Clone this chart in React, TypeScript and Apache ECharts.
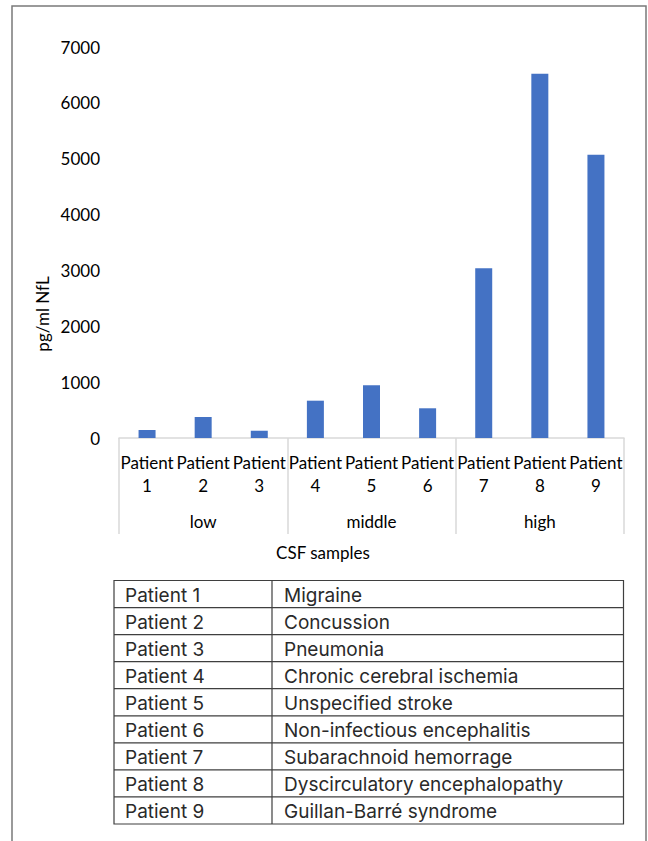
import React, { useEffect, useRef } from "react";
import * as echarts from "echarts";

const patients = [
  "Patient 1", "Patient 2", "Patient 3", "Patient 4", "Patient 5",
  "Patient 6", "Patient 7", "Patient 8", "Patient 9",
];
const nflValues = [143, 376, 130, 668, 943, 532, 3037, 6522, 5072];
const groups = ["low", "middle", "high"];
const groupSize = 3;
const yMin = 0;
const yMax = 7000;
const yInterval = 1000;
const yAxisTitle = "pg/ml NfL";
const xAxisTitle = "CSF samples";
const diagnoses = [
  "Migraine",
  "Concussion",
  "Pneumonia",
  "Chronic cerebral ischemia",
  "Unspecified stroke",
  "Non-infectious encephalitis",
  "Subarachnoid hemorrage",
  "Dyscirculatory encephalopathy",
  "Guillan-Barré syndrome",
];

const CHART_FONT = "Lato";
const TABLE_FONT = "Inter";

export default function App() {
  const ref = useRef<HTMLDivElement>(null);

  useEffect(() => {
    if (!ref.current) return;
    const chart = echarts.init(ref.current, undefined, { renderer: "svg" });

    // table geometry
    const tX = 114, tY = 580.5, tW = 509.5, tH = 243.5, colX = 272;
    const rowH = tH / patients.length;
    const tableEls: any[] = [];
    tableEls.push({
      type: "rect",
      shape: { x: tX, y: tY, width: tW, height: tH },
      style: { fill: "none", stroke: "#3f3f3f", lineWidth: 1.2 },
    });
    tableEls.push({
      type: "line",
      shape: { x1: colX, y1: tY, x2: colX, y2: tY + tH },
      style: { stroke: "#3f3f3f", lineWidth: 1.2 },
    });
    patients.forEach((p, i) => {
      const y0 = tY + i * rowH;
      if (i > 0) {
        tableEls.push({
          type: "line",
          shape: { x1: tX, y1: y0, x2: tX + tW, y2: y0 },
          style: { stroke: "#3f3f3f", lineWidth: 1.2 },
        });
      }
      tableEls.push({
        type: "text",
        x: tX + 11,
        y: y0 + rowH / 2 + 1.5,
        style: {
          text: p,
          fill: "#2a2a2a",
          fontFamily: TABLE_FONT,
          fontSize: 19,
          align: "left",
          verticalAlign: "middle",
        },
      });
      tableEls.push({
        type: "text",
        x: colX + 12,
        y: y0 + rowH / 2 + 1.5,
        style: {
          text: diagnoses[i],
          fill: "#2a2a2a",
          fontFamily: TABLE_FONT,
          fontSize: 19,
          align: "left",
          verticalAlign: "middle",
        },
      });
    });

    chart.setOption({
      animation: false,
      textStyle: { fontFamily: CHART_FONT },
      grid: {
        left: 119,
        right: 24,
        top: 47,
        bottom: 403,
        containLabel: false,
        outerBoundsMode: "none",
      },
      xAxis: [
        {
          type: "category",
          data: patients,
          position: "bottom",
          axisLine: { show: true, lineStyle: { color: "#d9d9d9", width: 1.5 } },
          axisTick: {
            show: true,
            interval: (index: number) => index % groupSize === 0,
            length: 96,
            lineStyle: { color: "#d9d9d9", width: 1.5 },
          },
          axisLabel: {
            interval: 0,
            margin: 13,
            color: "#000",
            fontSize: 17,
            lineHeight: 23,
            fontFamily: CHART_FONT,
            formatter: (v: string) => v.replace(" ", "\n"),
          },
        },
        {
          type: "category",
          data: groups,
          position: "bottom",
          axisLine: { show: false },
          axisTick: { show: false },
          axisLabel: {
            interval: 0,
            margin: 72,
            color: "#000",
            fontSize: 17,
            lineHeight: 23,
            fontFamily: CHART_FONT,
          },
        },
      ],
      yAxis: {
        type: "value",
        min: yMin,
        max: yMax,
        interval: yInterval,
        axisLine: { show: false },
        axisTick: { show: false },
        splitLine: { show: false },
        axisLabel: {
          margin: 19,
          color: "#000",
          fontSize: 17,
          fontFamily: CHART_FONT,
          formatter: (v: number) => String(v),
        },
      },
      series: [
        {
          type: "bar",
          data: nflValues,
          xAxisIndex: 0,
          barWidth: 17,
          itemStyle: { color: "#4472c4" },
        },
      ],
      graphic: [
        {
          type: "rect",
          shape: { x: 12, y: 6, width: 634, height: 900 },
          style: { fill: "none", stroke: "#7a7a7a", lineWidth: 1.5 },
        },
        {
          type: "text",
          x: 323,
          y: 552,
          style: {
            text: xAxisTitle,
            fill: "#000",
            fontFamily: CHART_FONT,
            fontSize: 17,
            align: "center",
            verticalAlign: "middle",
          },
        },
        {
          type: "text",
          x: 42,
          y: 314,
          rotation: Math.PI / 2,
          style: {
            text: yAxisTitle,
            fill: "#000",
            fontFamily: CHART_FONT,
            fontSize: 17,
            align: "center",
            verticalAlign: "middle",
          },
        },
        ...tableEls,
      ],
    });

    return () => chart.dispose();
  }, []);

  return (
    <div
      ref={ref}
      style={{ position: "absolute", left: 0, top: 0, width: 648, height: 841, background: "#fff" }}
    />
  );
}
